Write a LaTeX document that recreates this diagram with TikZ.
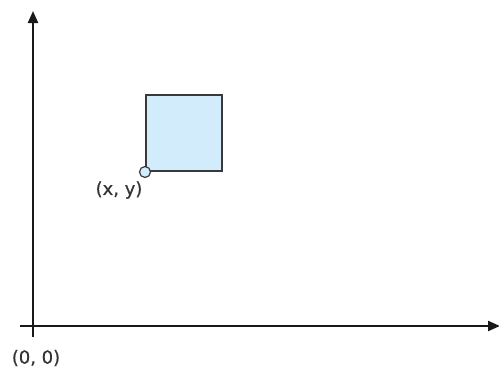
\documentclass[tikz,border=0pt]{standalone}
\usepackage{fontspec}
\setmainfont{DejaVu Sans}[BoldFont={DejaVu Sans},BoldFeatures={FakeBold=0.6}]
\usetikzlibrary{arrows.meta}
\definecolor{boxfill}{HTML}{D2ECFB}
\definecolor{boxline}{HTML}{3A3A3A}
\tikzset{
  axis/.style={line width=2.2pt, draw=black!90, -{Triangle[length=12pt,width=10pt]}},
  lbl/.style={font=\fontsize{18}{20}\selectfont\bfseries, text=black!80, inner sep=0pt},
  sq/.style={draw=boxline, fill=boxfill, line width=1.6pt},
}
\begin{document}
\begin{tikzpicture}[x=1pt,y=-1pt]
\useasboundingbox (0,0) rectangle (499,367);
\coordinate (ystart) at (33,337);
\coordinate (ytop) at (33,11);
\coordinate (xstart) at (20,326);
\coordinate (xend) at (500,326);
\draw[axis] (ystart) -- (ytop);
\draw[axis] (xstart) -- (xend);
\node[sq, minimum width=76pt, minimum height=76pt, anchor=south west, inner sep=0pt] (box) at (145,172) {};
\node[draw=boxline, fill=boxfill, circle, line width=1.2pt, minimum size=11pt, inner sep=0pt] (pt) at (box.south west) {};
\node[lbl] (xy) at (119,190) {(x, y)};
\node[lbl] (origin) at (36,358) {(0, 0)};
\end{tikzpicture}
\end{document}
